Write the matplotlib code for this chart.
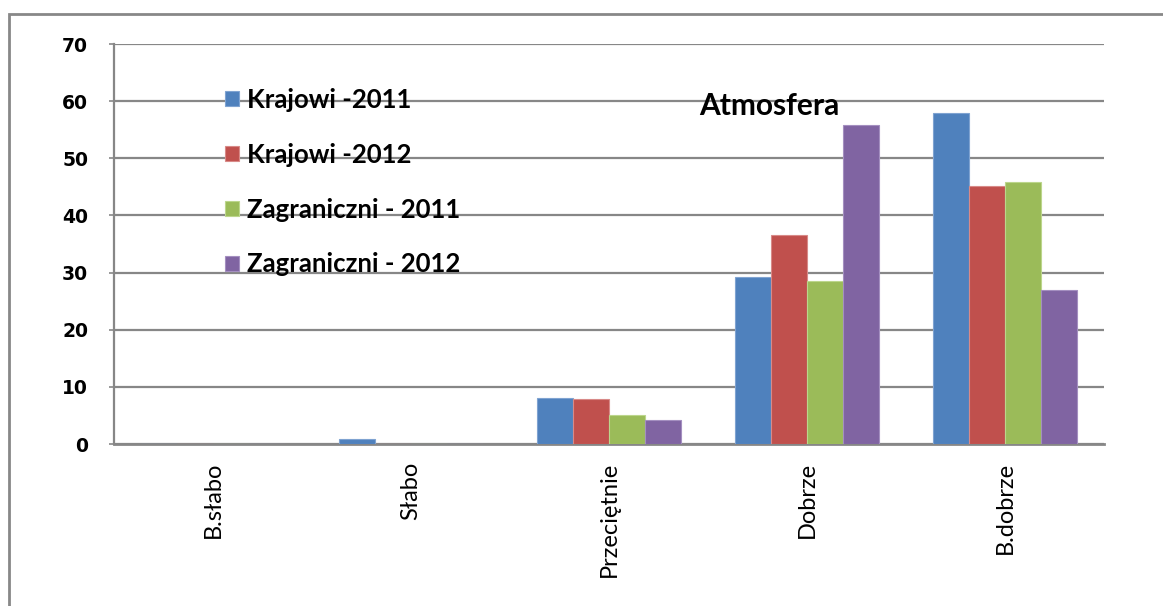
import numpy as np
import matplotlib
matplotlib.use("Agg")
import matplotlib.pyplot as plt
from matplotlib.patches import Rectangle

# Data
categories = ["B.słabo", "Słabo", "Przeciętnie", "Dobrze", "B.dobrze"]
series_names = ["Krajowi -2011", "Krajowi -2012", "Zagraniczni - 2011", "Zagraniczni - 2012"]
krajowi_2011 = [0, 0.8, 8.0, 29.3, 57.9]
krajowi_2012 = [0, 0, 7.8, 36.6, 45.2]
zagraniczni_2011 = [0, 0, 5.1, 28.5, 45.8]
zagraniczni_2012 = [0, 0, 4.2, 55.8, 27.0]
series = [krajowi_2011, krajowi_2012, zagraniczni_2011, zagraniczni_2012]
colors = ["#4F81BD", "#C0504D", "#9BBB59", "#8064A2"]
edge_colors = ["#7fa3d1", "#d88a88", "#bcd68c", "#a48fc0"]

W, H = 1163, 606
fig = plt.figure(figsize=(W / 100, H / 100), dpi=100)
ax = fig.add_axes([114 / W, 1 - 444 / H, (1104 - 114) / W, 400 / H])

x = np.arange(len(categories))
bw = 0.182
for i, (vals, name) in enumerate(zip(series, series_names)):
  ax.bar(x + (i - 1.5) * bw, vals, width=bw, color=colors[i], edgecolor=edge_colors[i],
         linewidth=0.8, label=name, zorder=3)

ax.set_xlim(-0.5, len(categories) - 0.5)
ax.set_ylim(0, 70)
ax.set_yticks(range(0, 71, 10))
ax.yaxis.grid(True, color="#878787", linewidth=1.6, zorder=0)
ax.set_axisbelow(True)

for s in ["top", "right"]:
  ax.spines[s].set_visible(False)
ax.spines["left"].set_color("#878787")
ax.spines["left"].set_linewidth(1.6)
ax.spines["bottom"].set_color("#878787")
ax.spines["bottom"].set_linewidth(2)

# tick length / pad are in points (1 px = 0.72 pt at 100 dpi)
ax.tick_params(axis="y", direction="out", length=3.6, width=1.2, color="#878787", pad=15)
for lbl in ax.get_yticklabels():
  lbl.set_fontweight("bold")
  lbl.set_fontsize(13.5)
  lbl.set_family("DejaVu Sans")

ax.set_xticks(x)
ax.set_xticklabels(categories, rotation=90, fontsize=17, family=["Lato", "DejaVu Sans"], va="top")
ax.tick_params(axis="x", length=0, pad=13)

leg = ax.legend(loc="upper left", bbox_to_anchor=(212 / W, 1 - 75 / H), bbox_transform=fig.transFigure,
                frameon=False, handlelength=0.55, handleheight=0.55, handletextpad=0.3,
                labelspacing=1.2, borderpad=0,
                prop={"family": ["Lato", "DejaVu Sans"], "weight": "bold", "size": 18.5})

fig.text(769 / W, 1 - 106 / H, "Atmosfera", ha="center", va="center", fontsize=21.5,
         fontweight="bold", family=["Lato", "DejaVu Sans"])

# outer chart frame (runs past the right and bottom edge of the picture)
fig.patches.append(Rectangle((9 / W, -0.1), 1.2, 1.1 - 14 / H, transform=fig.transFigure,
                             fill=False, edgecolor="#888888", linewidth=2))

fig.savefig("out.png", dpi=100)
